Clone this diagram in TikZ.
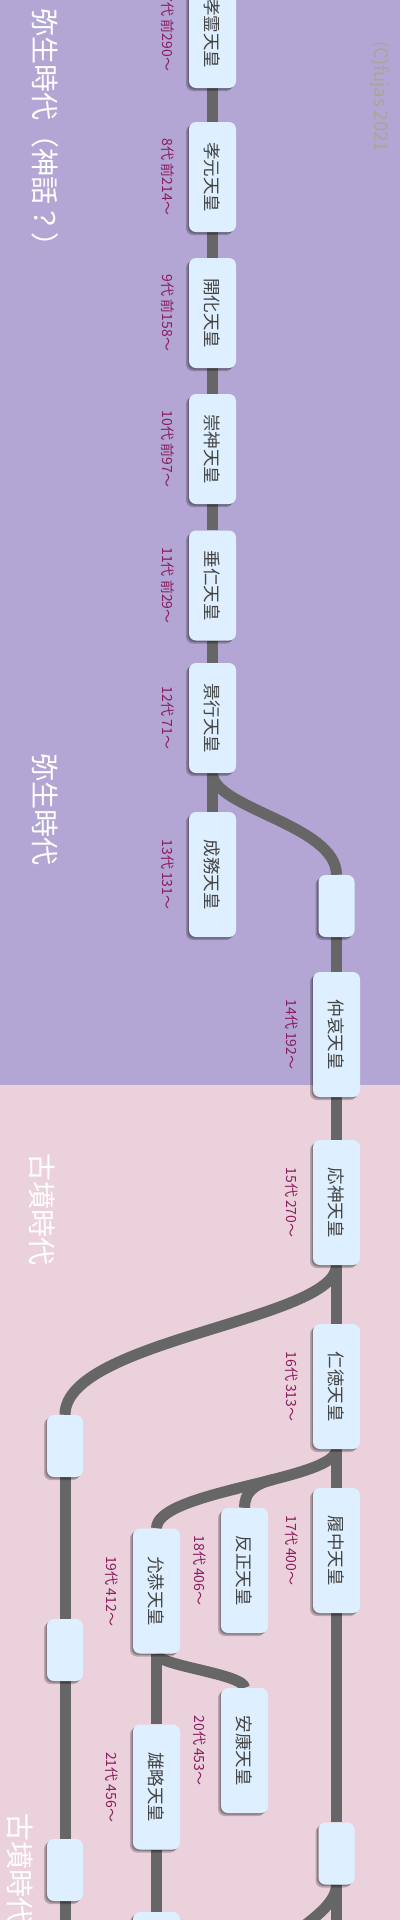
\documentclass[tikz,border=0pt]{standalone}
\usepackage{fontspec}
\setmainfont{Noto Sans CJK JP}
\usepackage{graphicx}
\usetikzlibrary{shadows}
\pgfdeclarelayer{bg}
\pgfdeclarelayer{lines}
\pgfsetlayers{bg,lines,main}
\definecolor{yayoi}{HTML}{B3A6D4}
\definecolor{kofun}{HTML}{EBD1DC}
\definecolor{boxblue}{HTML}{DEF0FF}
\definecolor{trackgray}{HTML}{666666}
\definecolor{boxtext}{HTML}{444444}
\definecolor{reigncol}{HTML}{8B1D5E}
\definecolor{copycol}{HTML}{A6A69A}
\tikzset{
  track/.style={line width=11pt, draw=trackgray},
  boxshadow/.style={drop shadow={shadow xshift=-3pt,shadow yshift=-3pt,opacity=.22,fill=black},
                    drop shadow={shadow xshift=-1.5pt,shadow yshift=-1.5pt,opacity=.25,fill=black}},
  tenno/.style={fill=boxblue, rounded corners=7pt, minimum width=47pt, minimum height=125pt,
                inner sep=0pt, text=boxtext, font=\fontsize{17.5}{20}\selectfont, boxshadow},
  tennoS/.style={tenno, minimum height=110pt},
  blank/.style={fill=boxblue, rounded corners=7pt, minimum width=36pt, minimum height=62pt,
                inner sep=0pt, boxshadow},
  reign/.style={text=reigncol, font=\fontsize{14}{16}\selectfont, rotate=-90, inner sep=0pt},
  era/.style={text=white, font=\fontsize{28}{30}\selectfont, rotate=-90, inner sep=0pt},
}
\begin{document}
\begin{tikzpicture}[x=1pt,y=-1pt]
\useasboundingbox (0,0) rectangle (400,1920);
\begin{pgfonlayer}{bg}
  \fill[yayoi] (0,0) rectangle (400,1085);
  \fill[kofun] (0,1085) rectangle (400,1920);
\end{pgfonlayer}

% era labels
\node[era, anchor=west] (era1) at (45.5,8) {弥生時代（神話？）};
\node[era] (era2) at (45.5,809) {弥生時代};
\node[era] (era3) at (42.5,1209) {古墳時代};
\node[era, anchor=west] (era4) at (20.5,1813) {古墳時代};
\node[rotate=-90, text=copycol, font=\fontsize{18.5}{20}\selectfont, inner sep=0pt] (copy) at (380,96.5) {(C)fujas 2021};

% column A
\node[tennoS] (korei) at (212.5,33) {\rotatebox{-90}{孝霊天皇}};
\node[tennoS] (kogen) at (212.5,177) {\rotatebox{-90}{孝元天皇}};
\node[tennoS] (kaika) at (212.5,313) {\rotatebox{-90}{開化天皇}};
\node[tennoS] (sujin) at (212.5,449) {\rotatebox{-90}{崇神天皇}};
\node[tennoS] (suinin) at (212.5,585.5) {\rotatebox{-90}{垂仁天皇}};
\node[tennoS] (keiko) at (212.5,718) {\rotatebox{-90}{景行天皇}};
\node[tenno] (seimu) at (212.5,874.5) {\rotatebox{-90}{成務天皇}};
% column B
\node[blank] (e1) at (336.5,906) {};
\node[tenno] (chuai) at (336.5,1034.5) {\rotatebox{-90}{仲哀天皇}};
\node[tenno] (oujin) at (336.5,1202.5) {\rotatebox{-90}{応神天皇}};
\node[tenno] (nintoku) at (336.5,1386.5) {\rotatebox{-90}{仁徳天皇}};
\node[tenno] (richu) at (336.5,1550.5) {\rotatebox{-90}{履中天皇}};
\node[blank] (e2) at (336.5,1853.5) {};
% column C
\node[blank] (c1) at (65,1446) {};
\node[blank] (c2) at (65,1650) {};
\node[blank] (c3) at (65,1870) {};
% column D
\node[tenno] (inkyo) at (156.5,1591) {\rotatebox{-90}{允恭天皇}};
\node[tenno] (yuryaku) at (156.5,1787) {\rotatebox{-90}{雄略天皇}};
\node[tenno] (d3) at (156.5,1974.5) {};
% column E
\node[tenno] (hanzei) at (244.5,1570.5) {\rotatebox{-90}{反正天皇}};
\node[tenno] (anko) at (244.5,1750.5) {\rotatebox{-90}{安康天皇}};

% reign labels
\node[reign] (korei-l) at ([xshift=-21pt]korei.west) {7代 前290～};
\node[reign] (kogen-l) at ([xshift=-21pt]kogen.west) {8代 前214～};
\node[reign] (kaika-l) at ([xshift=-21pt]kaika.west) {9代 前158～};
\node[reign] (sujin-l) at ([xshift=-21pt]sujin.west) {10代 前97～};
\node[reign] (suinin-l) at ([xshift=-21pt]suinin.west) {11代 前29～};
\node[reign] (keiko-l) at ([xshift=-21pt]keiko.west) {12代 71～};
\node[reign] (seimu-l) at ([xshift=-21pt]seimu.west) {13代 131～};
\node[reign] (chuai-l) at ([xshift=-21pt]chuai.west) {14代 192～};
\node[reign] (oujin-l) at ([xshift=-21pt]oujin.west) {15代 270～};
\node[reign] (nintoku-l) at ([xshift=-21pt]nintoku.west) {16代 313～};
\node[reign] (richu-l) at ([xshift=-21pt]richu.west) {17代 400～};
\node[reign] (hanzei-l) at ([xshift=-21pt]hanzei.west) {18代 406～};
\node[reign] (inkyo-l) at ([xshift=-21pt]inkyo.west) {19代 412～};
\node[reign] (anko-l) at ([xshift=-21pt]anko.west) {20代 453～};
\node[reign] (yuryaku-l) at ([xshift=-21pt]yuryaku.west) {21代 456～};

\coordinate (bOff) at (336.5,1990);
\coordinate (eOff) at (244.5,1990);
\coordinate (cOff) at (65,1990);

\begin{pgfonlayer}{lines}
  \draw[track] (korei.south) -- (kogen.north);
  \draw[track] (kogen.south) -- (kaika.north);
  \draw[track] (kaika.south) -- (sujin.north);
  \draw[track] (sujin.south) -- (suinin.north);
  \draw[track] (suinin.south) -- (keiko.north);
  \draw[track] (keiko.south) -- (seimu.north);
  \draw[track] (keiko.south) .. controls +(0,35) and +(0,-50) .. (e1.north);
  \draw[track] (e1.south) -- (chuai.north);
  \draw[track] (chuai.south) -- (oujin.north);
  \draw[track] (oujin.south) -- (nintoku.north);
  \draw[track] (oujin.south) .. controls +(0,55) and +(0,-75) .. (c1.north);
  \draw[track] (nintoku.south) -- (richu.north);
  \draw[track] (nintoku.south) .. controls +(0,31) and +(0,-38) .. (inkyo.north) coordinate[pos=0.4] (br);
  \draw[track] (br) .. controls +(-20,5) and +(0,-15) .. (hanzei.north);
  \draw[track] (richu.south) -- (e2.north);
  \draw[track] (e2.south) -- (bOff);
  \draw[track] (e2.south) .. controls +(0,36) and +(0,-40) .. (eOff);
  \draw[track] (c1.south) -- (c2.north);
  \draw[track] (c2.south) -- (c3.north);
  \draw[track] (c3.south) -- (cOff);
  \draw[track] (inkyo.south) -- (yuryaku.north);
  \draw[track] (inkyo.south) .. controls +(0,12) and +(0,-14) .. (anko.north);
  \draw[track] (yuryaku.south) -- (d3.north);
\end{pgfonlayer}
\end{tikzpicture}
\end{document}
